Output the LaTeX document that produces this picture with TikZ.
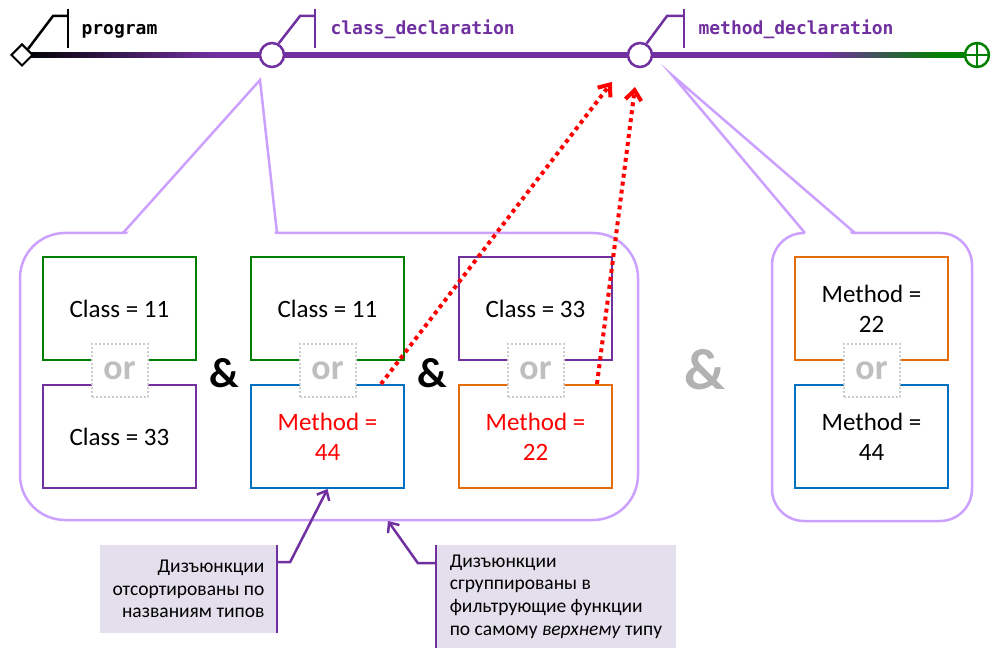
\documentclass[tikz,border=0pt]{standalone}
\usepackage{fontspec}
\setmainfont{Carlito}
\newfontfamily\codefont{DejaVu Sans Mono}
\usetikzlibrary{arrows.meta,shapes.geometric}

\definecolor{railpurple}{RGB}{112,48,160}
\definecolor{railgreen}{RGB}{0,128,0}
\definecolor{calloutline}{RGB}{204,160,255}
\definecolor{notefill}{RGB}{228,223,236}
\definecolor{orgray}{RGB}{191,191,191}
\definecolor{andgray}{RGB}{178,178,178}
\definecolor{boxblue}{RGB}{0,112,192}
\definecolor{boxorange}{RGB}{228,108,10}

% the path covers 25bp..75bp of the shading
\pgfdeclarehorizontalshading{railshade}{100bp}{color(0bp)=(black); color(25bp)=(black); color(35bp)=(railpurple); color(67bp)=(railpurple); color(73bp)=(railgreen); color(100bp)=(railgreen)}

\tikzset{
    condbox/.style={draw, line width=2pt, minimum width=153pt, minimum height=103pt, align=center, font=\fontsize{25}{30}\selectfont},
    orbox/.style={draw=orgray!80, line width=2pt, dash pattern=on 2pt off 2pt, fill=white, minimum width=56pt, minimum height=53pt, inner sep=0pt, text=orgray, font=\fontsize{36}{36}\selectfont\bfseries},
    andsign/.style={font=\fontsize{42}{42}\selectfont\bfseries},
    callout/.style={draw=calloutline, line width=2.5pt, miter limit=20},
    junction/.style={circle, draw=railpurple, line width=2.5pt, fill=white, minimum size=24pt, inner sep=0pt},
    flag/.style={line width=2.5pt},
    rulename/.style={anchor=base west, font=\codefont\bfseries\fontsize{18}{18}\selectfont},
    note/.style={fill=notefill, font=\fontsize{19.5}{22.7}\selectfont, inner ysep=0pt},
    notearrow/.style={draw=railpurple, line width=2.5pt, -{Straight Barb[length=8pt,width=14pt]}},
    hint/.style={draw=red, line width=4pt, dash pattern=on 4pt off 4pt, -{Straight Barb[length=10pt,width=16pt]}}
}

\begin{document}
\begin{tikzpicture}[x=1pt,y=-1pt]
        \useasboundingbox (0,0) rectangle (997,660);
        % Draw callouts
        \draw[callout, rounded corners=45pt] (20,233) rectangle (638,520);
        \fill[white] (125,236) -- (260,80) -- (275,236) -- cycle;
        \draw[callout] (123,233) -- (260,80) -- (277,233);
        \draw[callout, rounded corners=32pt] (772,233) rectangle (972,521);
        \fill[white] (807,236) -- (672,75) -- (854,236) -- cycle;
        \draw[callout] (805,233) -- (672,75) -- (855,233);
        % Draw rail
        \shade[shading=railshade] (22,52.5) rectangle (978,57.5);
        \node[diamond, draw, line width=2pt, fill=white, minimum size=22pt, inner sep=0pt] (start) at (22,55) {};
        \node[junction] (cdecl) at (272,55) {};
        \node[junction] (mdecl) at (640,55) {};
        \node[circle, draw=railgreen, line width=2.5pt, fill=white, minimum size=24pt, inner sep=0pt] (finish) at (977,55) {};
        \draw[railgreen, line width=2.5pt] (finish.north) -- (finish.south) (finish.west) -- (finish.east);
        % Draw rule flags
        \draw[flag] (start.north east) -- (53,16) -- (68,16);
        \draw[flag] (68,9) -- (68,48);
        \node[rulename] (prog) at (78,35) {program};
        \draw[flag, railpurple] (cdecl.60) -- (300,16) -- (315,16);
        \draw[flag, railpurple] (315,9) -- (315,48);
        \node[rulename, text=railpurple] (cname) at (327,35) {class\_declaration};
        \draw[flag, railpurple] (mdecl.60) -- (667,16) -- (684,16);
        \draw[flag, railpurple] (684,9) -- (684,48);
        \node[rulename, text=railpurple] (mname) at (695,35) {method\_declaration};
        % Draw conditions
        \node[condbox, draw=railgreen] (cA) at (119.5,308.5) {Class = 11};
        \node[condbox, draw=railpurple] (mA) at (119.5,436.5) {Class = 33};
        \node[orbox] (orA) at (119.5,371) {or};
        \node[andsign] (andA) at (224,373) {\&};
        \node[condbox, draw=railgreen] (cB) at (327.5,308.5) {Class = 11};
        \node[condbox, draw=boxblue, text=red] (mB) at (327.5,436.5) {Method =\\44};
        \node[orbox] (orB) at (327.5,371) {or};
        \node[andsign] (andB) at (432,373) {\&};
        \node[condbox, draw=railpurple] (cC) at (535.5,308.5) {Class = 33};
        \node[condbox, draw=boxorange, text=red] (mC) at (535.5,436.5) {Method =\\22};
        \node[orbox] (orC) at (535.5,371) {or};
        \node[andsign, text=andgray, font=\fontsize{58}{58}\selectfont\bfseries] (andC) at (705,370) {\&};
        \node[condbox, draw=boxorange] (cD) at (871.5,308.5) {Method =\\22};
        \node[condbox, draw=boxblue] (mD) at (871.5,436.5) {Method =\\44};
        \node[orbox] (orD) at (871.5,371) {or};
        % Draw hints
        \draw[hint] ([xshift=-24pt]mB.north east) -- ([shift={(-28,27)}]mdecl.center);
        \draw[hint] ([xshift=-16pt]mC.north east) -- ([shift={(-5,32)}]mdecl.center);
        % Draw notes
        \node[note, align=right, minimum width=177pt, minimum height=88pt, inner xsep=12pt] (sortnote) at (188.5,589) {Дизъюнкции\\отсортированы по\\названиям типов};
        \draw[railpurple, line width=2.5pt] (sortnote.north east) -- (sortnote.south east);
        \draw[notearrow] ([yshift=27pt]sortnote.east) -- ++(13,0) -- (mB.south);
        \node[note, align=left, minimum width=240pt, minimum height=103pt, inner xsep=10pt] (groupnote) at (556,596.5) {Дизъюнкции\\сгруппированы в\\фильтрующие функции\\по самому \textit{верхнему} типу};
        \draw[railpurple, line width=2.5pt] (groupnote.north west) -- (groupnote.south west);
        \coordinate (groupfoot) at (388,521);
        \draw[notearrow] ([yshift=33.5pt]groupnote.west) -- ++(-18,0) -- (groupfoot);
    \end{tikzpicture}
\end{document}
